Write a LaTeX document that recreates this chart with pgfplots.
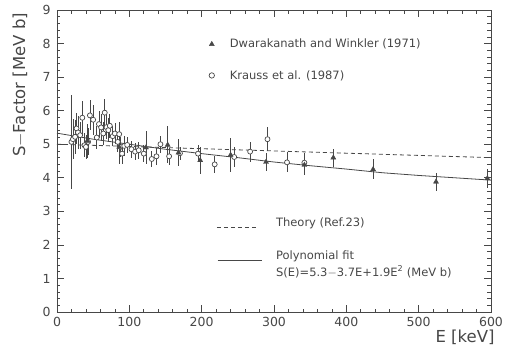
\documentclass[border=0pt]{standalone}
\usepackage{fontspec}
\setmainfont{DejaVu Sans}
\usepackage{pgfplots}
\usepackage{pgfplotstable}
\pgfplotsset{compat=1.18}

\definecolor{ink}{gray}{0.28}

% Krauss et al. (1987): E [keV], S [MeV b], error
\pgfplotstableread{
E S dS
20 5.07 1.40
22 5.15 0.60
25 5.22 0.50
27 5.47 0.45
29 5.35 0.50
32 5.27 0.40
35 5.79 0.50
38 4.97 0.35
40 4.92 0.35
43 5.07 0.40
45.5 5.86 0.45
50 5.73 0.45
55 5.20 0.35
58 5.60 0.40
61 5.50 0.40
64 5.32 0.35
66 5.94 0.40
68.5 5.51 0.35
71 5.42 0.35
73 5.55 0.35
77 5.24 0.30
80 5.32 0.30
84 5.07 0.30
86 5.30 0.35
88 4.92 0.30
90 4.72 0.30
93 4.95 0.30
97 4.98 0.25
103 4.85 0.25
108 4.78 0.25
113 4.82 0.25
120 4.72 0.25
131 4.56 0.25
137.5 4.64 0.25
143 5.00 0.25
155 4.64 0.25
170 4.73 0.20
195 4.72 0.25
218 4.40 0.25
245 4.62 0.30
267 4.78 0.30
291 5.15 0.35
318 4.46 0.30
342 4.45 0.30
}\krauss

% Dwarakanath and Winkler (1971)
\pgfplotstableread{
E S dS
42 5.10 0.50
86 4.92 0.50
123 4.90 0.50
153 4.98 0.55
168 4.75 0.40
198 4.52 0.40
240 4.68 0.50
289 4.47 0.28
342 4.38 0.30
382 4.60 0.27
437 4.25 0.30
524 3.88 0.27
595 3.98 0.28
}\dwarak

\begin{document}
\begin{tikzpicture}
\useasboundingbox (-57pt,-37pt) rectangle (450pt,312pt);
\begin{axis}[
  at={(0,0)}, anchor=south west,
  scale only axis, width=434pt, height=302pt,
  xmin=0, xmax=600, ymin=0, ymax=9,
  xtick={0,100,...,600}, ytick={0,1,...,9},
  minor x tick num=4, minor y tick num=4,
  tick align=inside, major tick length=7pt, minor tick length=3.5pt,
  axis line style={ink, line width=0.8pt},
  every tick/.style={ink, line width=0.7pt},
  tick label style={font=\fontsize{12.5}{14}\selectfont, text=ink},
  /pgf/number format/assume math mode=true,
  xticklabel style={yshift=-2pt},
  yticklabel style={xshift=-3pt},
  clip=false,
]
% theory curve
\addplot[ink, line width=0.8pt, dash pattern=on 4pt off 3pt] coordinates {(0,5.00) (600,4.60)};
% polynomial fit
\addplot[ink, line width=0.8pt] coordinates {
(0,5.33) (50,5.15) (100,5.00) (150,4.85) (200,4.72) (250,4.60) (300,4.47)
(350,4.36) (400,4.26) (450,4.15) (500,4.07) (550,4.00) (600,3.93)};
% data with error bars
\addplot[ink, only marks, mark=*, mark size=2.5pt, mark options={fill=white, line width=0.7pt},
  error bars/.cd, y dir=both, y explicit, error mark=none,
  error bar style={ink, line width=0.7pt}]
  table[x=E, y=S, y error=dS] {\krauss};
\addplot[ink, only marks, mark=triangle*, mark size=2.9pt, mark options={fill=ink},
  error bars/.cd, y dir=both, y explicit, error mark=none,
  error bar style={ink, line width=0.7pt}]
  table[x=E, y=S, y error=dS] {\dwarak};
% legend entries
\addplot[ink, only marks, mark=triangle*, mark size=2.9pt, mark options={fill=ink}] coordinates {(214,7.98)};
\addplot[ink, only marks, mark=*, mark size=2.7pt, mark options={fill=white, line width=0.7pt}] coordinates {(214,7.05)};
\addplot[ink, line width=0.8pt, dash pattern=on 4pt off 3pt] coordinates {(221,2.53) (278,2.53)};
\addplot[ink, line width=0.8pt] coordinates {(222,1.55) (283,1.55)};
\node[anchor=west, text=ink, font=\fontsize{11.5}{13}\selectfont] at (axis cs:234,7.98) {Dwarakanath and Winkler (1971)};
\node[anchor=west, text=ink, font=\fontsize{11.5}{13}\selectfont] at (axis cs:234,7.05) {Krauss et al. (1987)};
\node[anchor=west, text=ink, font=\fontsize{11.5}{13}\selectfont] at (axis cs:298,2.65) {Theory (Ref.23)};
\node[anchor=west, text=ink, font=\fontsize{11.5}{13}\selectfont] at (axis cs:298,1.67) {Polynomial fit};
\node[anchor=west, text=ink, font=\fontsize{11.5}{13}\selectfont] at (axis cs:298,1.20) {S(E)=5.3$-$3.7E+1.9E\textsuperscript{2} (MeV b)};
\end{axis}
\node[rotate=90, text=ink, font=\fontsize{16.5}{18}\selectfont] at (-37pt,227pt) {S$-$Factor [MeV b]};
\node[anchor=east, text=ink, font=\fontsize{16.5}{18}\selectfont] at (441pt,-25pt) {E [keV]};
\end{tikzpicture}
\end{document}
